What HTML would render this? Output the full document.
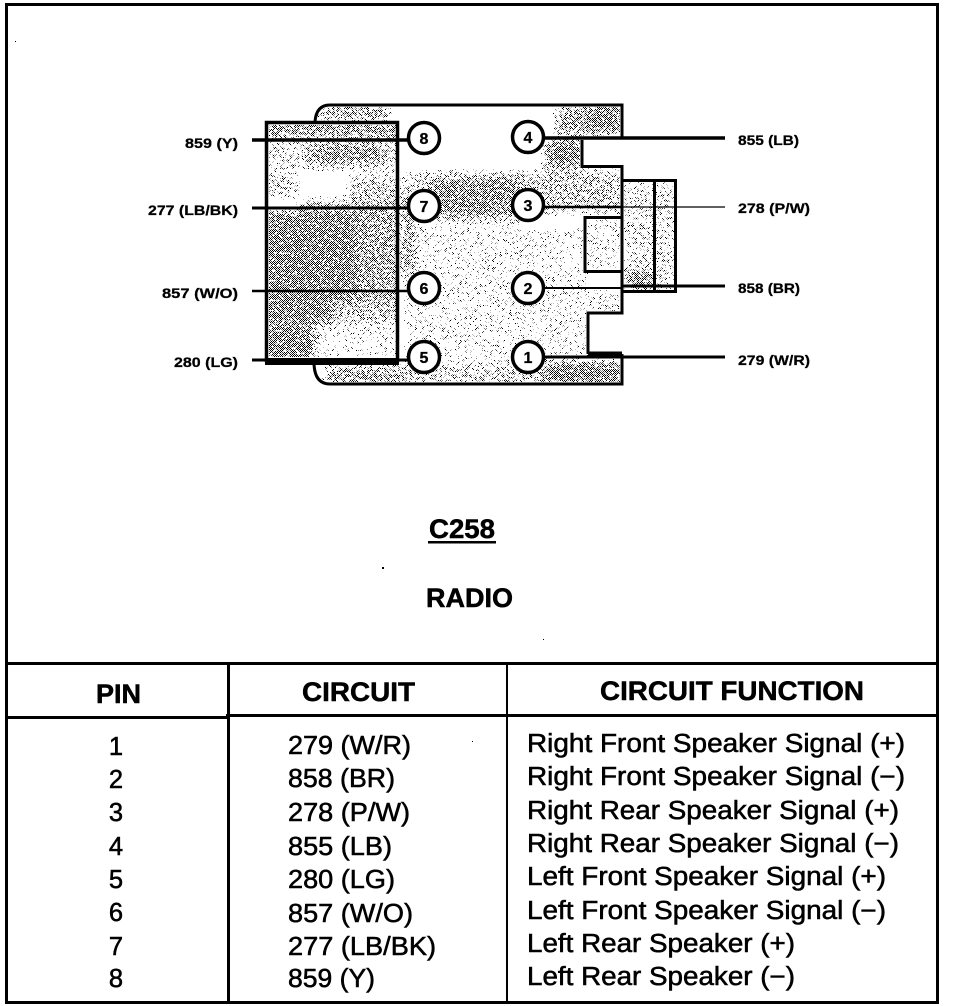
<!DOCTYPE html>
<html><head><meta charset="utf-8"><style>
html,body{margin:0;padding:0;background:#fff;width:960px;height:1006px;overflow:hidden}
svg{display:block}
text{font-family:"Liberation Sans",sans-serif;fill:#000}
.l{font-size:14px;font-weight:700;stroke:#000;stroke-width:.25px}
.t{font-size:25.5px;stroke:#000;stroke-width:.55px}
.h{font-size:27px;font-weight:700;stroke:#000;stroke-width:.5px}
.n{font-size:16px;font-weight:700;text-anchor:middle;stroke:#000;stroke-width:.3px}
</style></head><body>
<svg width="960" height="1006" viewBox="0 0 960 1006" xmlns="http://www.w3.org/2000/svg">
<defs>
<pattern id="d" width="2" height="2" patternUnits="userSpaceOnUse"><rect width="1" height="1" fill="#000"/><rect x="1" y="1" width="1" height="1" fill="#000"/></pattern>
<filter id="dith" filterUnits="userSpaceOnUse" x="0" y="0" width="960" height="500" color-interpolation-filters="sRGB">
<feGaussianBlur in="SourceAlpha" stdDeviation="5" result="b"/>
<feTurbulence type="fractalNoise" baseFrequency="0.4" numOctaves="2" seed="7" result="n"/>
<feColorMatrix in="n" type="matrix" values="0 0 0 0 0  0 0 0 0 0  0 0 0 0 0  3 0 0 0 -1" result="na"/>
<feComposite in="b" in2="na" operator="arithmetic" k1="0" k2="1" k3="1" k4="-0.72" result="sum"/>
<feComponentTransfer in="sum" result="t"><feFuncA type="discrete" tableValues="0 1"/></feComponentTransfer>
<feFlood flood-color="#fff"/>
<feComposite in2="t" operator="in"/>
</filter>
<clipPath id="bodyclip">
<path d="M316 122Q317 107 330 107H620V136H580V168H620V215H583V273H620V311H586V355H620V382H330Q316 382 316 362Z"/>
<rect x="624" y="182" width="29" height="108"/>
<rect x="656" y="182" width="18" height="108"/>
<rect x="587" y="219" width="33" height="52"/>
</clipPath>
<clipPath id="boxclip"><rect x="269" y="125" width="127" height="232"/></clipPath>
<mask id="bodymask" maskUnits="userSpaceOnUse" x="0" y="0" width="960" height="500">
<g filter="url(#dith)" fill="#000">
<rect x="400" y="225" width="190" height="135" fill-opacity=".28"/>
<rect x="320" y="105" width="70" height="16" fill-opacity=".8"/>
<rect x="325" y="366" width="75" height="18" fill-opacity=".8"/>
<rect x="556" y="105" width="68" height="30" fill-opacity=".8"/>
<rect x="590" y="105" width="34" height="30" fill-opacity="1"/>
<rect x="545" y="140" width="38" height="28"/>
<rect x="520" y="170" width="102" height="44" fill-opacity=".6"/>
<rect x="400" y="170" width="120" height="44" fill-opacity=".45"/>
<rect x="430" y="178" width="90" height="42" fill-opacity=".8"/>
<rect x="400" y="195" width="14" height="80" fill-opacity=".8"/>
<rect x="400" y="364" width="145" height="22" fill-opacity=".55"/>
<rect x="545" y="362" width="78" height="24"/>
<rect x="590" y="290" width="32" height="22" fill-opacity=".4"/>
<rect x="625" y="182" width="50" height="110" fill-opacity=".42"/>
<rect x="625" y="270" width="28" height="20" fill-opacity=".85"/>
<rect x="587" y="219" width="35" height="52" fill-opacity=".3"/>
</g>
</mask>
<mask id="boxmask" maskUnits="userSpaceOnUse" x="0" y="0" width="960" height="500">
<g filter="url(#dith)" fill="#000">
<rect x="260" y="120" width="145" height="18" fill-opacity=".85"/>
<rect x="260" y="142" width="145" height="26" fill-opacity=".45"/>
<rect x="310" y="142" width="75" height="24" fill-opacity=".7"/>
<rect x="260" y="172" width="145" height="26" fill-opacity=".12"/>
<rect x="260" y="172" width="36" height="26" fill-opacity=".5"/>
<rect x="350" y="176" width="55" height="24" fill-opacity=".55"/>
<rect x="300" y="200" width="105" height="10" fill-opacity=".7"/>
<rect x="260" y="210" width="145" height="90" fill-opacity=".75"/>
<rect x="260" y="212" width="95" height="88"/>
<rect x="260" y="298" width="145" height="26" fill-opacity=".6"/>
<rect x="260" y="298" width="72" height="26"/>
<rect x="260" y="326" width="145" height="36" fill-opacity=".25"/>
<rect x="260" y="326" width="55" height="36"/>
</g>
</mask>
</defs>
<rect width="960" height="1006" fill="#fff"/>
<!-- stipple -->
<g clip-path="url(#bodyclip)"><rect x="300" y="100" width="390" height="300" fill="url(#d)" mask="url(#bodymask)" shape-rendering="crispEdges"/></g>
<rect x="268" y="124" width="129" height="236" fill="#fff"/>
<g clip-path="url(#boxclip)"><rect x="260" y="120" width="145" height="245" fill="url(#d)" mask="url(#boxmask)" shape-rendering="crispEdges"/></g>
<!-- connector outline -->
<g fill="none" stroke="#000" stroke-width="3">
<path d="M315 122Q316 105 330 105H622V138"/>
<path d="M314 362Q314 384 330 384H622V354"/>
<path d="M582 140V166.500H622V217.500H585V271.500H622V313H588V354"/>
</g>
<path d="M588 354H622" stroke="#000" stroke-width="5"/>
<!-- tab -->
<g fill="none" stroke="#000" stroke-width="3">
<rect x="622" y="180.500" width="53.500" height="111"/>
<path d="M654.500 180V292"/>
</g>
<!-- left box -->
<rect x="266.500" y="122.500" width="131" height="238" fill="none" stroke="#000" stroke-width="3.500"/>
<rect x="265" y="358" width="134" height="7" fill="#000"/>
<!-- leads -->
<g stroke="#000" fill="none">
<path d="M252 140H410" stroke-width="3.500"/>
<path d="M252 208H410" stroke-width="3"/>
<path d="M252 291H410" stroke-width="2.500"/>
<path d="M252 360H410" stroke-width="3"/>
<path d="M545 138H725" stroke-width="3.500"/>
<path d="M545 207H622" stroke-width="2.500"/>
<path d="M622 207H725" stroke-width="1.300"/>
<path d="M545 288H622" stroke-width="2"/>
<path d="M622 286H725" stroke-width="3"/>
<path d="M545 357H725" stroke-width="3"/>
</g>
<!-- pins -->
<g fill="#fff" stroke="#000" stroke-width="3.500">
<circle cx="424" cy="138" r="15.500"/>
<circle cx="424" cy="206" r="15.500"/>
<circle cx="424" cy="288" r="15.500"/>
<circle cx="424" cy="357" r="15.500"/>
<circle cx="528" cy="137" r="15.500"/>
<circle cx="528" cy="205" r="15.500"/>
<circle cx="528" cy="288" r="15.500"/>
<circle cx="528" cy="357" r="15.500"/>
</g>
<text class="n" x="424" y="144">8</text>
<text class="n" x="424" y="212">7</text>
<text class="n" x="424" y="294">6</text>
<text class="n" x="424" y="363">5</text>
<text class="n" x="528" y="143">4</text>
<text class="n" x="528" y="211">3</text>
<text class="n" x="528" y="294">2</text>
<text class="n" x="528" y="363">1</text>
<!-- wire labels -->
<text class="l" x="185" y="148" textLength="53" lengthAdjust="spacingAndGlyphs">859 (Y)</text>
<text class="l" x="148" y="215" textLength="90" lengthAdjust="spacingAndGlyphs">277 (LB/BK)</text>
<text class="l" x="162" y="298" textLength="76" lengthAdjust="spacingAndGlyphs">857 (W/O)</text>
<text class="l" x="174" y="367" textLength="64" lengthAdjust="spacingAndGlyphs">280 (LG)</text>
<text class="l" x="738" y="145" textLength="61" lengthAdjust="spacingAndGlyphs">855 (LB)</text>
<text class="l" x="738" y="213" textLength="72" lengthAdjust="spacingAndGlyphs">278 (P/W)</text>
<text class="l" x="738" y="293" textLength="62" lengthAdjust="spacingAndGlyphs">858 (BR)</text>
<text class="l" x="738" y="365" textLength="72" lengthAdjust="spacingAndGlyphs">279 (W/R)</text>
<!-- titles -->
<text class="h" x="429" y="538" textLength="66" lengthAdjust="spacingAndGlyphs">C258</text>
<rect x="428" y="541" width="68" height="2.500" fill="#000"/>
<text class="h" x="426" y="607" textLength="87" lengthAdjust="spacingAndGlyphs">RADIO</text>
<!-- specks and frame -->
<g shape-rendering="crispEdges" fill="#000">
<rect x="382" y="567" width="2" height="2"/>
<rect x="543" y="639" width="1" height="1"/>
<rect x="15" y="41" width="1" height="1"/>
<rect x="472" y="741" width="1" height="1"/>
<rect x="5" y="3" width="934" height="3"/>
<rect x="5" y="3" width="3" height="1001"/>
<rect x="936" y="3" width="3" height="1001"/>
<rect x="5" y="1001" width="934" height="3"/>
<rect x="5" y="662" width="934" height="3"/>
<rect x="5" y="716" width="224" height="3"/>
<rect x="226" y="714" width="713" height="3"/>
<rect x="227" y="663" width="3" height="340"/>
<rect x="506" y="663" width="2" height="340"/>
</g>
<!-- table header -->
<text class="h" x="96" y="703" textLength="45" lengthAdjust="spacingAndGlyphs">PIN</text>
<text class="h" x="302" y="701" textLength="113" lengthAdjust="spacingAndGlyphs">CIRCUIT</text>
<text class="h" x="600" y="700" textLength="264" lengthAdjust="spacingAndGlyphs">CIRCUIT FUNCTION</text>
<!-- pin column -->
<g text-anchor="middle">
<text class="t" x="116" y="755">1</text>
<text class="t" x="116" y="788">2</text>
<text class="t" x="116" y="821">3</text>
<text class="t" x="116" y="855">4</text>
<text class="t" x="116" y="888">5</text>
<text class="t" x="116" y="921">6</text>
<text class="t" x="116" y="955">7</text>
<text class="t" x="116" y="987">8</text>
</g>
<!-- circuit column -->
<text class="t" x="288" y="754" textLength="123" lengthAdjust="spacingAndGlyphs">279 (W/R)</text>
<text class="t" x="288" y="787" textLength="107" lengthAdjust="spacingAndGlyphs">858 (BR)</text>
<text class="t" x="288" y="821" textLength="122" lengthAdjust="spacingAndGlyphs">278 (P/W)</text>
<text class="t" x="288" y="855" textLength="104" lengthAdjust="spacingAndGlyphs">855 (LB)</text>
<text class="t" x="288" y="888" textLength="107" lengthAdjust="spacingAndGlyphs">280 (LG)</text>
<text class="t" x="288" y="922" textLength="125" lengthAdjust="spacingAndGlyphs">857 (W/O)</text>
<text class="t" x="288" y="955" textLength="148" lengthAdjust="spacingAndGlyphs">277 (LB/BK)</text>
<text class="t" x="288" y="987" textLength="87" lengthAdjust="spacingAndGlyphs">859 (Y)</text>
<!-- function column -->
<text class="t" x="527" y="752" textLength="378" lengthAdjust="spacingAndGlyphs">Right Front Speaker Signal (+)</text>
<text class="t" x="527" y="785" textLength="378" lengthAdjust="spacingAndGlyphs">Right Front Speaker Signal (−)</text>
<text class="t" x="527" y="819" textLength="372" lengthAdjust="spacingAndGlyphs">Right Rear Speaker Signal (+)</text>
<text class="t" x="527" y="852" textLength="372" lengthAdjust="spacingAndGlyphs">Right Rear Speaker Signal (−)</text>
<text class="t" x="527" y="885" textLength="359" lengthAdjust="spacingAndGlyphs">Left Front Speaker Signal (+)</text>
<text class="t" x="527" y="919" textLength="359" lengthAdjust="spacingAndGlyphs">Left Front Speaker Signal (−)</text>
<text class="t" x="527" y="952" textLength="268" lengthAdjust="spacingAndGlyphs">Left Rear Speaker (+)</text>
<text class="t" x="527" y="985" textLength="268" lengthAdjust="spacingAndGlyphs">Left Rear Speaker (−)</text>
</svg>
</body></html>
